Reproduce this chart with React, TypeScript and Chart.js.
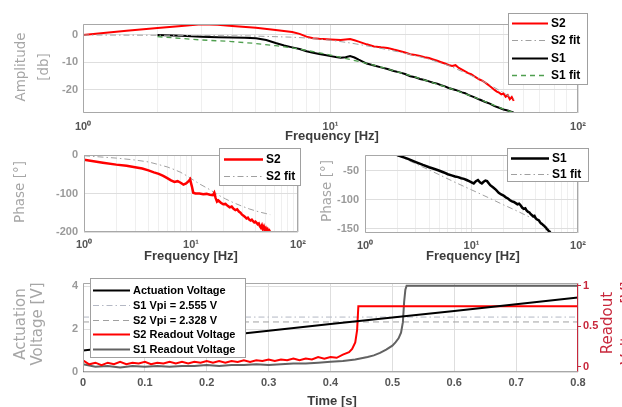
import React, { useEffect, useRef } from 'react';
import { Chart, registerables } from 'chart.js';

Chart.register(...registerables);

const W = 622;
const H = 407;
const FONT = "'Liberation Sans', Arial, Helvetica, sans-serif";
const YFONT = "'DejaVu Sans', 'Liberation Sans', sans-serif";

type P = [number, number][];

// ---------- tick values ----------
const FREQ_TICKS = [1, 2, 3, 4, 5, 6, 7, 8, 9, 10, 20, 30, 40, 50, 60, 70, 80, 90, 100];
const AMP_TICKS = [-20, -10, 0];
const PH2_TICKS = [-200, -100, 0];
const PH1_TICKS = [-150, -100, -50];
const TIME_TICKS = [0, 0.1, 0.2, 0.3, 0.4, 0.5, 0.6, 0.7, 0.8];
const ACT_TICKS = [0, 2, 4];
const READ_TICKS = [0, 0.5, 1];

// ---------- amplitude [dB] vs frequency [Hz] ----------
const AMP_S2: P = [[1,0],[1.5,1.5],[2,2.5],[2.5,3.3],[3,3.9],[3.5,3.7],[4,3.3],[5,2.6],[6,1.8],[7,1.1],[7.5,0.4],[8,-0.6],[8.5,-1.2],[9,-1.4],[10,-1.6],[11,-1.8],[12,-1.5],[12.5,-1.9],[13,-2.4],[14,-3.4],[15,-4.2],[16,-4.5],[17,-4.7],[18,-5.3],[19,-5.8],[20,-6.4],[21,-7.0],[22,-7.3],[23,-7.6],[24,-8.1],[25,-8.4],[26,-8.9],[27,-9.4],[28,-9.9],[29,-10.4],[30,-10.9],[31,-11.3],[32,-11.0],[33,-12.0],[34,-12.6],[35,-13.2],[36,-13.9],[37,-14.3],[38,-15.0],[39,-15.6],[40,-16.2],[41,-16.6],[42,-17.2],[43,-17.9],[44,-18.6],[45,-19.3],[46,-20.0],[47,-20.6],[48,-21.0],[49,-21.6],[50,-21.3],[51,-22.5],[52,-21.9],[53,-23.4],[54,-22.6],[55,-24.0]];
const AMP_S2_FIT: P = [[1,0],[2,-0.1],[3,-0.2],[5,-0.4],[7,-0.8],[8,-1.1],[10,-1.9],[12,-2.9],[15,-4.4],[20,-6.6],[25,-8.8],[30,-11.1],[40,-16.1],[50,-21.0],[55,-23.4]];
const AMP_S1: P = [[2,0],[2.5,-0.3],[3,-0.6],[3.5,-0.8],[4,-0.9],[4.5,-1.0],[5,-1.2],[5.5,-1.8],[6,-2.9],[6.5,-3.8],[7,-4.5],[7.5,-5.1],[8,-5.9],[8.5,-6.5],[9,-6.9],[9.5,-7.3],[10,-7.7],[10.5,-8.0],[11,-8.3],[11.5,-8.1],[12,-7.7],[12.5,-8.2],[13,-9.0],[14,-10.4],[15,-11.1],[16,-11.8],[17,-12.4],[18,-13.1],[19,-13.6],[20,-14.2],[21,-15.0],[22,-15.4],[23,-16.0],[24,-16.4],[25,-16.9],[26,-17.4],[27,-17.7],[28,-18.3],[29,-18.7],[30,-19.3],[32,-20.0],[34,-20.9],[35,-21.2],[36,-21.8],[38,-22.6],[40,-23.5],[42,-24.3],[44,-25.0],[46,-25.9],[48,-26.5],[50,-27.1],[52,-27.5],[55,-28.3]];
const AMP_S1_FIT: P = [[2,-0.6],[3,-1.8],[4,-2.4],[5,-3.1],[6,-3.9],[7,-4.7],[8,-5.6],[10,-7.3],[12,-8.9],[15,-11.0],[20,-14.2],[25,-16.9],[30,-19.2],[40,-23.4],[50,-27.0],[55,-28.3]];

// ---------- phase [deg] vs frequency [Hz] ----------
const PH_S2: P = [[1,-12],[1.5,-20],[2,-25],[2.5,-28],[3,-32],[3.5,-35],[4,-40],[4.5,-45],[5,-49],[5.5,-54],[6,-60],[6.5,-66],[7,-70],[7.5,-68],[8,-72],[8.5,-77],[9,-74],[9.5,-68],[9.8,-63],[10.2,-82],[10.5,-98],[11,-100],[12,-100],[13,-102],[14,-101],[15,-103],[16,-104],[16.5,-98],[17,-112],[17.5,-121],[18,-118],[19,-124],[20,-128],[21,-127],[22,-132],[23,-136],[24,-134],[25,-140],[26,-143],[27,-141],[28,-147],[29,-150],[30,-155],[31,-158],[32,-161],[33,-165],[34,-163],[35,-168],[36,-170],[37,-168],[38,-172],[39,-175],[40,-173],[41,-176],[42,-180],[43,-178],[44,-185],[45,-189],[46,-183],[47,-192],[48,-186],[49,-194],[50,-190],[51,-197],[52,-193],[53,-199],[54,-196],[55,-200]];
const PH_S2_FIT: P = [[1,-2],[2,-8],[3,-13],[4,-18],[5,-25],[6,-31],[7,-38],[8,-45],[9,-53],[10,-61],[12,-75],[15,-90],[18,-104],[21,-114],[25,-124],[30,-133],[35,-140],[40,-145],[45,-149],[50,-152],[55,-155]];
const PH_S1: P = [[2,-23],[2.5,-29],[3,-35],[3.5,-40],[4,-44],[4.5,-47],[5,-50],[5.5,-53],[6,-56],[6.5,-58],[7,-60],[7.5,-61],[8,-63],[8.5,-64],[9,-66],[9.5,-68],[10,-70],[10.5,-72],[11,-68],[11.5,-66],[12,-70],[12.5,-72],[13,-69],[13.5,-67],[14,-68],[15,-75],[16,-79],[17,-83],[18,-88],[19,-91],[20,-93],[21,-96],[22,-98],[23,-101],[24,-103],[25,-104],[26,-106],[27,-108],[28,-107],[29,-110],[30,-114],[31,-116],[32,-115],[33,-119],[34,-121],[35,-122],[36,-125],[37,-127],[38,-129],[39,-128],[40,-132],[41,-134],[42,-135],[43,-136],[44,-139],[45,-141],[46,-142],[47,-144],[48,-145],[49,-147],[50,-148],[51,-151],[52,-152],[53,-154],[54,-155],[55,-157]];
const PH_S1_FIT: P = [[2,-23],[3,-38],[5,-57],[7,-70],[10,-83],[15,-98],[20,-109],[25,-117],[30,-124],[35,-130]];

// ---------- time domain ----------
const ACT_V: P = [[0,0],[0,1.0],[0.1,1.31],[0.2,1.61],[0.3,1.92],[0.4,2.23],[0.5,2.54],[0.6,2.84],[0.7,3.15],[0.8,3.46]];
const S1_VPI = 2.555;
const S2_VPI = 2.328;
const S2_READ: P = [[0,0.08],[0.01,0.03],[0.02,0.05],[0.03,0.02],[0.04,0.05],[0.05,0.03],[0.06,0.06],[0.07,0.03],[0.08,0.05],[0.09,0.04],[0.1,0.06],[0.11,0.03],[0.12,0.05],[0.13,0.04],[0.14,0.06],[0.15,0.04],[0.16,0.06],[0.17,0.04],[0.18,0.06],[0.19,0.05],[0.2,0.07],[0.21,0.05],[0.22,0.07],[0.23,0.05],[0.24,0.07],[0.25,0.06],[0.26,0.08],[0.27,0.06],[0.28,0.08],[0.29,0.07],[0.3,0.09],[0.31,0.07],[0.32,0.09],[0.33,0.08],[0.34,0.1],[0.35,0.08],[0.36,0.1],[0.37,0.09],[0.38,0.12],[0.39,0.1],[0.4,0.12],[0.41,0.11],[0.42,0.15],[0.43,0.18],[0.435,0.22],[0.44,0.3],[0.443,0.45],[0.445,0.745],[0.5,0.745],[0.6,0.745],[0.7,0.745],[0.8,0.745]];
const S1_READ: P = [[0,0.03],[0.02,0.0],[0.04,0.01],[0.06,-0.01],[0.08,0.01],[0.1,0.0],[0.12,0.01],[0.14,0.0],[0.16,0.01],[0.18,0.01],[0.2,0.02],[0.22,0.01],[0.24,0.02],[0.26,0.02],[0.28,0.03],[0.3,0.02],[0.32,0.03],[0.34,0.04],[0.36,0.04],[0.38,0.05],[0.4,0.06],[0.42,0.07],[0.44,0.09],[0.46,0.12],[0.47,0.14],[0.48,0.17],[0.49,0.21],[0.5,0.26],[0.505,0.3],[0.51,0.35],[0.514,0.42],[0.517,0.55],[0.519,0.8],[0.521,0.95],[0.523,1.0],[0.6,1.0],[0.7,1.0],[0.8,1.0]];

// ---------- styles ----------
const GRID_MAJOR = '#dedede';
const GRID_MINOR = '#efefef';
const BOX = '#a8a8a8';
const YTICK = '#9a9a9a';
const XTICK = '#555555';
const XTITLE = '#3c3c3c';
const YTITLE = '#a6a6a6';
const RAXIS = '#c8283c';
const SUP = ['\u2070', '\u00b9', '\u00b2', '\u00b3'];

const pts = (a: P) => a.map(([x, y]) => ({ x, y }));
const isPow10 = (v: number) => {
  const e = Math.log10(v);
  return Math.abs(e - Math.round(e)) < 1e-9;
};
const fmt = (v: any) => String(+Number(v).toFixed(3));

const matlabPlugin = {
  id: 'matlab',
  afterDraw(chart: any, _args: any, opts: any) {
    const { ctx, chartArea: ca } = chart;
    ctx.save();
    const l = Math.round(ca.left) + 0.5;
    const t = Math.round(ca.top) + 0.5;
    const r = Math.round(ca.right) - 0.5;
    const b = Math.round(ca.bottom) - 0.5;
    ctx.setLineDash([]);
    ctx.lineWidth = 1;
    ctx.strokeStyle = BOX;
    ctx.beginPath();
    ctx.moveTo(r, t); ctx.lineTo(l, t); ctx.lineTo(l, b); ctx.lineTo(r, b);
    ctx.stroke();
    ctx.strokeStyle = opts.rightColor || BOX;
    ctx.beginPath(); ctx.moveTo(r, t); ctx.lineTo(r, b); ctx.stroke();

    for (const tx of opts.texts || []) {
      ctx.save();
      ctx.translate(tx.x, tx.y);
      if (tx.rot) ctx.rotate((tx.rot * Math.PI) / 180);
      ctx.font = tx.font;
      ctx.fillStyle = tx.color;
      ctx.textAlign = 'center';
      ctx.textBaseline = 'middle';
      ctx.fillText(tx.text, 0, 0);
      ctx.restore();
    }

    const lg = opts.legend;
    if (lg) {
      ctx.fillStyle = '#ffffff';
      ctx.fillRect(lg.x, lg.y, lg.w, lg.h);
      ctx.strokeStyle = '#a0a0a0';
      ctx.lineWidth = 1;
      ctx.strokeRect(lg.x + 0.5, lg.y + 0.5, lg.w, lg.h);
      lg.items.forEach((label: string, i: number) => {
        const ds = chart.data.datasets.find((d: any) => d.label === label);
        if (!ds) return;
        const y = Math.round(lg.y0 + i * lg.dy) + 0.5;
        ctx.beginPath();
        ctx.setLineDash(ds.borderDash || []);
        ctx.strokeStyle = ds.borderColor;
        ctx.lineWidth = ds.borderWidth;
        ctx.moveTo(lg.lx0, y);
        ctx.lineTo(lg.lx1, y);
        ctx.stroke();
        ctx.setLineDash([]);
        ctx.fillStyle = '#000';
        ctx.font = lg.font;
        ctx.textAlign = 'left';
        ctx.textBaseline = 'middle';
        ctx.fillText(label, lg.tx, y);
      });
    }
    ctx.restore();
  },
};

function freqAxis(xH: number, pad: number) {
  return {
    type: 'logarithmic',
    min: 1,
    max: 100,
    afterBuildTicks: (s: any) => {
      s.ticks = FREQ_TICKS.map((v) => ({ value: v, major: isPow10(v) }));
    },
    afterFit: (s: any) => { s.height = xH; },
    ticks: {
      autoSkip: false, maxRotation: 0, minRotation: 0, padding: pad, color: XTICK,
      font: { family: FONT, size: 11, weight: 'bold' },
      callback: (v: any) => (isPow10(Number(v)) ? '10' + SUP[Math.round(Math.log10(Number(v)))] : ''),
    },
    grid: { drawTicks: false, color: (c: any) => (c.tick && c.tick.major ? GRID_MAJOR : GRID_MINOR) },
    border: { display: false },
  };
}

function linAxis(min: number, max: number, tks: number[], size: number, pad: number, color: string, horizontal = false) {
  return {
    type: 'linear',
    min,
    max,
    afterBuildTicks: (s: any) => { s.ticks = tks.map((v) => ({ value: v })); },
    afterFit: (s: any) => { if (horizontal) s.height = size; else s.width = size; },
    ticks: { autoSkip: false, maxRotation: 0, padding: pad, color, font: { family: FONT, size: 11, weight: 'bold' }, callback: fmt },
    grid: { drawTicks: false, color: GRID_MAJOR },
    border: { display: false },
  };
}

function baseOptions(padding: any, scales: any, matlab: any) {
  return {
    animation: false,
    responsive: false,
    maintainAspectRatio: false,
    devicePixelRatio: 1,
    events: [],
    layout: { padding },
    elements: { point: { radius: 0 }, line: { tension: 0, borderCapStyle: 'butt' } },
    plugins: { legend: { display: false }, tooltip: { enabled: false }, matlab },
    scales,
  };
}

function line(label: string, data: P, color: string, width: number, dash: number[] = [], extra: any = {}) {
  return { label, data: pts(data), borderColor: color, backgroundColor: color, borderWidth: width, borderDash: dash, fill: false, ...extra };
}

function cfgAmp(): any {
  return {
    type: 'line',
    data: {
      datasets: [
        line('S1 fit', AMP_S1_FIT, '#4f9f4f', 1.3, [5, 4]),
        line('S2 fit', AMP_S2_FIT, '#a0a0a0', 1, [6, 3, 1.5, 3]),
        line('S2', AMP_S2, '#ff0000', 2),
        line('S1', AMP_S1, '#000000', 2),
      ],
    },
    options: baseOptions(
      { left: 0, right: W - 578, top: 24, bottom: H - 113 - 20 },
      { x: freqAxis(20, 7), y: linAxis(-28.4, 4, AMP_TICKS, 83, 5, YTICK) },
      {
        texts: [
          { text: 'Amplitude', x: 21, y: 67, rot: -90, font: `13.5px ${YFONT}`, color: YTITLE },
          { text: '[db]', x: 44, y: 67, rot: -90, font: `13.5px ${YFONT}`, color: YTITLE },
          { text: 'Frequency [Hz]', x: 332, y: 136, font: `bold 13px ${FONT}`, color: XTITLE },
        ],
        legend: { x: 508, y: 13, w: 79, h: 71, y0: 23, dy: 17.3, lx0: 512, lx1: 548, tx: 551, font: `bold 12px ${FONT}`, items: ['S2', 'S2 fit', 'S1', 'S1 fit'] },
      }
    ),
    plugins: [matlabPlugin],
  };
}

function cfgPh2(): any {
  return {
    type: 'line',
    data: {
      datasets: [
        line('S2', PH_S2, '#ff0000', 2.5),
        line('S2 fit', PH_S2_FIT, '#a0a0a0', 1, [6, 3, 1.5, 3]),
      ],
    },
    options: baseOptions(
      { left: 0, right: W - 298, top: 155, bottom: H - 232 - 20 },
      { x: freqAxis(20, 6), y: linAxis(-200, 0, PH2_TICKS, 84, 6, YTICK) },
      {
        texts: [
          { text: 'Phase [\u00b0]', x: 20, y: 192, rot: -90, font: `13.5px ${YFONT}`, color: YTITLE },
          { text: 'Frequency [Hz]', x: 191, y: 256, font: `bold 13px ${FONT}`, color: XTITLE },
        ],
        legend: { x: 219, y: 148, w: 81, h: 37, y0: 158.5, dy: 17.6, lx0: 224, lx1: 263, tx: 266, font: `bold 12px ${FONT}`, items: ['S2', 'S2 fit'] },
      }
    ),
    plugins: [matlabPlugin],
  };
}

function cfgPh1(): any {
  return {
    type: 'line',
    data: {
      datasets: [
        line('S1', PH_S1, '#000000', 2.5),
        line('S1 fit', PH_S1_FIT, '#a0a0a0', 1, [6, 3, 1.5, 3]),
      ],
    },
    options: baseOptions(
      { left: 365 - 40, right: W - 578, top: 155, bottom: H - 233 - 20 },
      { x: freqAxis(20, 6), y: linAxis(-157.6, -22.8, PH1_TICKS, 40, 6, YTICK) },
      {
        texts: [
          { text: 'Phase [\u00b0]', x: 327, y: 191, rot: -90, font: `13.5px ${YFONT}`, color: YTITLE },
          { text: 'Frequency [Hz]', x: 473, y: 256, font: `bold 13px ${FONT}`, color: XTITLE },
        ],
        legend: { x: 507, y: 148, w: 81, h: 33, y0: 158.3, dy: 16, lx0: 511, lx1: 549, tx: 552, font: `bold 12px ${FONT}`, items: ['S1', 'S1 fit'] },
      }
    ),
    plugins: [matlabPlugin],
  };
}

function cfgTime(): any {
  const y1 = linAxis(-0.065, 1.033, READ_TICKS, 44, 2, RAXIS);
  (y1 as any).position = 'right';
  (y1 as any).grid = { drawOnChartArea: false, drawTicks: true, tickLength: 3, color: RAXIS };
  return {
    type: 'line',
    data: {
      datasets: [
        line('Actuation Voltage', ACT_V, '#000000', 2, [], { yAxisID: 'y' }),
        line('S2 Readout Voltage', S2_READ, '#ff0000', 2, [], { yAxisID: 'y1' }),
        line('S1 Readout Voltage', S1_READ, '#626262', 2, [], { yAxisID: 'y1' }),
        line('S1 Vpi = 2.555 V', [[0, S1_VPI], [0.8, S1_VPI]], '#b4b8c4', 1, [6, 3, 1.5, 3], { yAxisID: 'y' }),
        line('S2 Vpi = 2.328 V', [[0, S2_VPI], [0.8, S2_VPI]], '#a0a0a0', 1, [6, 4], { yAxisID: 'y' }),
      ],
    },
    options: baseOptions(
      { left: 0, right: 0, top: 283, bottom: H - 372 - 20 },
      {
        x: linAxis(0, 0.8, TIME_TICKS, 20, 4, XTICK, true),
        y: linAxis(0, 4.14, ACT_TICKS, 83, 5, YTICK),
        y1,
      },
      {
        rightColor: RAXIS,
        texts: [
          { text: 'Actuation', x: 21, y: 324, rot: -90, font: `15px ${YFONT}`, color: YTITLE },
          { text: 'Voltage [V]', x: 38, y: 324, rot: -90, font: `15px ${YFONT}`, color: YTITLE },
          { text: 'Time [s]', x: 332, y: 401, font: `bold 13px ${FONT}`, color: XTITLE },
          { text: 'Readout', x: 608, y: 323, rot: -90, font: `15px ${YFONT}`, color: RAXIS },
          { text: 'Voltage [V]', x: 628, y: 323, rot: -90, font: `15px ${YFONT}`, color: RAXIS },
        ],
        legend: {
          x: 90, y: 278, w: 155, h: 79, y0: 290, dy: 14.8, lx0: 93, lx1: 130, tx: 133, font: `bold 11px ${FONT}`,
          items: ['Actuation Voltage', 'S1 Vpi = 2.555 V', 'S2 Vpi = 2.328 V', 'S2 Readout Voltage', 'S1 Readout Voltage'],
        },
      }
    ),
    plugins: [matlabPlugin],
  };
}

export default function App() {
  const r1 = useRef<HTMLCanvasElement>(null);
  const r2 = useRef<HTMLCanvasElement>(null);
  const r3 = useRef<HTMLCanvasElement>(null);
  const r4 = useRef<HTMLCanvasElement>(null);

  useEffect(() => {
    document.body.style.margin = '0';
    const charts = [
      new Chart(r1.current as HTMLCanvasElement, cfgAmp()),
      new Chart(r2.current as HTMLCanvasElement, cfgPh2()),
      new Chart(r3.current as HTMLCanvasElement, cfgPh1()),
      new Chart(r4.current as HTMLCanvasElement, cfgTime()),
    ];
    return () => charts.forEach((c) => c.destroy());
  }, []);

  const cs: React.CSSProperties = { position: 'absolute', left: 0, top: 0 };
  return (
    <div style={{ position: 'fixed', left: 0, top: 0, width: W, height: H, background: '#fff', overflow: 'hidden' }}>
      <canvas ref={r1} width={W} height={H} style={cs} />
      <canvas ref={r2} width={W} height={H} style={cs} />
      <canvas ref={r3} width={W} height={H} style={cs} />
      <canvas ref={r4} width={W} height={H} style={cs} />
    </div>
  );
}
